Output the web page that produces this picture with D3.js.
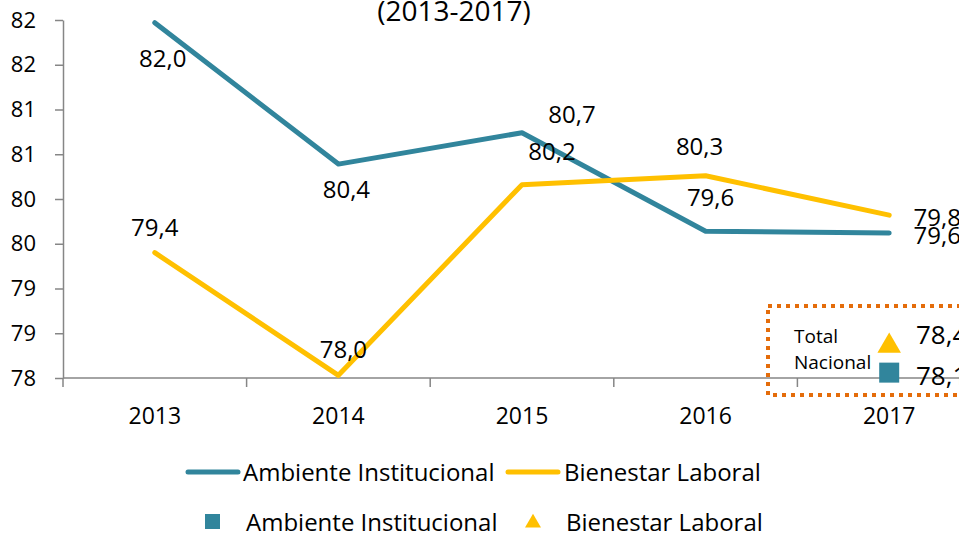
<!DOCTYPE html>
<html>
<head>
<meta charset="utf-8">
<script src="https://cdn.jsdelivr.net/npm/d3@7"></script>
<style>
  body { margin: 0; background: #fff; }
  svg { display: block; font-family: "Open Sans", sans-serif; }
</style>
</head>
<body>
<div id="chart"></div>
<script>
// data
var years = ["2013", "2014", "2015", "2016", "2017"];
var ambiente = [81.97, 80.39, 80.74, 79.64, 79.62];
var bienestar = [79.40, 78.03, 80.16, 80.26, 79.82];
var yTicks = [78, 78.5, 79, 79.5, 80, 80.5, 81, 81.5, 82];
var nacionalAmbiente = 78.06;
var nacionalBienestar = 78.38;
var titleText = "(2013-2017)";
var seriesNames = ["Ambiente Institucional", "Bienestar Laboral"];

var teal = "#31859c", yellow = "#ffc000", orange = "#e46c0a", axisGrey = "#868686";

// label nudges (px) relative to each point, [dx, dy to baseline]
var ambienteLabelOff = [[8, 44], [8, 34], [50, -10], [5, -25], [48, 11]];
var bienestarLabelOff = [[0, -17], [5, -17], [30, -25], [-6, -21], [48, 11]];

var width = 959, height = 538;
var svg = d3.select("#chart").append("svg")
  .attr("width", width)
  .attr("height", height);

var x = d3.scaleBand().domain(years).range([63, 63 + 5 * 183.6]);
var y = d3.scaleLinear().domain([78, 82]).range([378, 20]);
var cx = function(d) { return x(d) + x.bandwidth() / 2; };
var fmt = function(v) { return d3.format(".1f")(v).replace(".", ","); };

// title (top part cut off in the original)
svg.append("text")
  .attr("x", 454).attr("y", 21)
  .attr("text-anchor", "middle")
  .attr("font-size", 28)
  .text(titleText);

// y axis
var yAxis = svg.append("g")
  .attr("transform", "translate(63,0)")
  .call(d3.axisLeft(y).tickValues(yTicks).tickSize(8).tickSizeOuter(0).tickPadding(19)
    .tickFormat(d3.format(".0f")));
yAxis.select(".domain").attr("stroke", axisGrey).attr("stroke-width", 1.5);
yAxis.selectAll(".tick line").attr("stroke", axisGrey).attr("stroke-width", 1.5);
yAxis.selectAll(".tick text").attr("font-size", 22).attr("fill", "#000")
  .attr("font-family", "Open Sans, sans-serif");

// x axis
var xAxis = svg.append("g")
  .attr("transform", "translate(0,378)")
  .call(d3.axisBottom(x).tickSize(0).tickSizeOuter(0).tickPadding(30));
xAxis.select(".domain").remove();
xAxis.selectAll(".tick text").attr("font-size", 23).attr("fill", "#000")
  .attr("font-family", "Open Sans, sans-serif");
xAxis.append("line")
  .attr("x1", 63).attr("x2", width)
  .attr("stroke", axisGrey).attr("stroke-width", 1.5);
xAxis.selectAll(".bound")
  .data(years)
  .enter().append("line")
  .attr("class", "bound")
  .attr("x1", function(d) { return x(d); })
  .attr("x2", function(d) { return x(d); })
  .attr("y1", 0).attr("y2", 9)
  .attr("stroke", axisGrey).attr("stroke-width", 1.5);

// lines
var line = d3.line()
  .x(function(d, i) { return cx(years[i]); })
  .y(function(d) { return y(d); });

[[ambiente, teal], [bienestar, yellow]].forEach(function(s) {
  svg.append("path")
    .datum(s[0])
    .attr("d", line)
    .attr("fill", "none")
    .attr("stroke", s[1])
    .attr("stroke-width", 5)
    .attr("stroke-linejoin", "round")
    .attr("stroke-linecap", "round");
});

// data labels
function addLabels(values, offs) {
  svg.append("g").selectAll("text")
    .data(values)
    .enter().append("text")
    .attr("x", function(d, i) { return cx(years[i]) + offs[i][0]; })
    .attr("y", function(d, i) { return y(d) + offs[i][1]; })
    .attr("text-anchor", "middle")
    .attr("font-size", 24)
    .text(fmt);
}
addLabels(ambiente, ambienteLabelOff);
addLabels(bienestar, bienestarLabelOff);

// total nacional box
var nx = cx("2017");
svg.append("rect")
  .attr("x", 768).attr("y", 306)
  .attr("width", 230).attr("height", 89)
  .attr("fill", "none")
  .attr("stroke", orange)
  .attr("stroke-width", 4)
  .attr("stroke-dasharray", "4,5");
svg.append("text").attr("x", 794).attr("y", 343).attr("font-size", 19).text("Total");
svg.append("text").attr("x", 794).attr("y", 369).attr("font-size", 19).text("Nacional");

svg.append("path")
  .attr("d", d3.symbol().type(d3.symbolTriangle).size(240)())
  .attr("transform", "translate(" + nx + "," + (y(nacionalBienestar) + 2) + ")")
  .attr("fill", yellow);
svg.append("rect")
  .attr("x", nx - 10).attr("y", y(nacionalAmbiente) - 10)
  .attr("width", 20).attr("height", 20)
  .attr("fill", teal);
svg.append("text").attr("x", 916).attr("y", y(nacionalBienestar)).attr("font-size", 26)
  .text(fmt(nacionalBienestar));
svg.append("text").attr("x", 916).attr("y", y(nacionalAmbiente) + 12).attr("font-size", 26)
  .text(fmt(nacionalAmbiente));

// legend
var leg = svg.append("g").attr("font-size", 24);
leg.append("line").attr("x1", 188).attr("x2", 238).attr("y1", 472).attr("y2", 472)
  .attr("stroke", teal).attr("stroke-width", 5).attr("stroke-linecap", "round");
leg.append("text").attr("x", 243).attr("y", 481).text(seriesNames[0]);
leg.append("line").attr("x1", 508).attr("x2", 558).attr("y1", 472).attr("y2", 472)
  .attr("stroke", yellow).attr("stroke-width", 5).attr("stroke-linecap", "round");
leg.append("text").attr("x", 564).attr("y", 481).text(seriesNames[1]);

leg.append("rect").attr("x", 205).attr("y", 514).attr("width", 15).attr("height", 15)
  .attr("fill", teal);
leg.append("text").attr("x", 246).attr("y", 531).text(seriesNames[0]);
leg.append("path")
  .attr("d", d3.symbol().type(d3.symbolTriangle).size(110)())
  .attr("transform", "translate(533,523)")
  .attr("fill", yellow);
leg.append("text").attr("x", 566).attr("y", 531).text(seriesNames[1]);
</script>
</body>
</html>
